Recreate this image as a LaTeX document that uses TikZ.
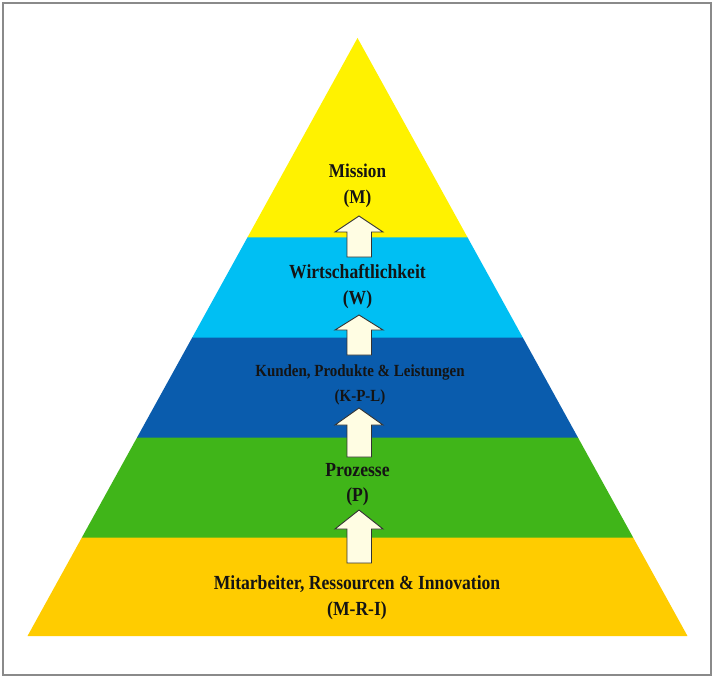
\documentclass[tikz,border=0pt]{standalone}
\usepackage{fontspec}
\newfontfamily\pyrfont[FakeStretch=0.88]{Liberation Serif}
\definecolor{bandM}{HTML}{FFF200}
\definecolor{bandW}{HTML}{00BFF3}
\definecolor{bandK}{HTML}{0A5CAD}
\definecolor{bandP}{HTML}{40B519}
\definecolor{bandR}{HTML}{FFCC00}
\definecolor{arrowfill}{HTML}{FFFDE3}
\definecolor{framegray}{HTML}{8A8A8A}
\tikzset{
  band/.style={draw=none},
  label/.style={align=center, text=black!92, inner sep=0pt, font=\pyrfont\bfseries},
  blockarrow/.style={draw=black!80, line width=0.9pt, fill=arrowfill, line join=miter},
}
\begin{document}
\begin{tikzpicture}[x=1pt,y=-1pt]
\useasboundingbox (0,0) rectangle (714,676);
\fill[white] (0,0) rectangle (714,676);
\draw[framegray, line width=2pt] (3,3) rectangle (711,675);
% pyramid: apex (357.5,38), base y=636, half width 330 -> slope 330/598
\coordinate (apex) at (357.5,38);
\def\hw#1{(#1-38)*0.5518}
\fill[bandR] ({357.5-(537-38)*0.5518},537) -- ({357.5+(537-38)*0.5518},537) -- ({357.5+(636-38)*0.5518},636) -- ({357.5-(636-38)*0.5518},636) -- cycle;
\fill[bandP] ({357.5-(437-38)*0.5518},437) -- ({357.5+(437-38)*0.5518},437) -- ({357.5+(537.5-38)*0.5518},537.5) -- ({357.5-(537.5-38)*0.5518},537.5) -- cycle;
\fill[bandK] ({357.5-(337-38)*0.5518},337) -- ({357.5+(337-38)*0.5518},337) -- ({357.5+(437.5-38)*0.5518},437.5) -- ({357.5-(437.5-38)*0.5518},437.5) -- cycle;
\fill[bandW] ({357.5-(237-38)*0.5518},237) -- ({357.5+(237-38)*0.5518},237) -- ({357.5+(337.5-38)*0.5518},337.5) -- ({357.5-(337.5-38)*0.5518},337.5) -- cycle;
\fill[bandM] (apex) -- ({357.5+(237.5-38)*0.5518},237.5) -- ({357.5-(237.5-38)*0.5518},237.5) -- cycle;
% labels
\node[label, font=\pyrfont\bfseries\fontsize{19.5}{26}\selectfont] (M) at (357.5,186) {Mission\\(M)};
\node[label, font=\pyrfont\bfseries\fontsize{20}{26}\selectfont] (W) at (357.5,287) {Wirtschaftlichkeit\\(W)};
\node[label, font=\pyrfont\bfseries\fontsize{17}{25}\selectfont] (K) at (360,384.5) {Kunden, Produkte \& Leistungen\\(K-P-L)};
\node[label, font=\pyrfont\bfseries\fontsize{20}{25}\selectfont] (P) at (357.5,484.5) {Prozesse\\(P)};
\node[label, font=\pyrfont\bfseries\fontsize{20}{26}\selectfont] (R) at (357,597.5) {Mitarbeiter, Ressourcen \& Innovation\\(M-R-I)};
% block arrows
\foreach \t/\b/\e in {216/232/257, 315/330/355, 408/425/457, 510/529/563}{
  \draw[blockarrow] (359,\t) -- (383,\b) -- (371.5,\b) -- (371.5,\e) -- (347,\e) -- (347,\b) -- (335,\b) -- cycle;
}
\end{tikzpicture}
\end{document}
